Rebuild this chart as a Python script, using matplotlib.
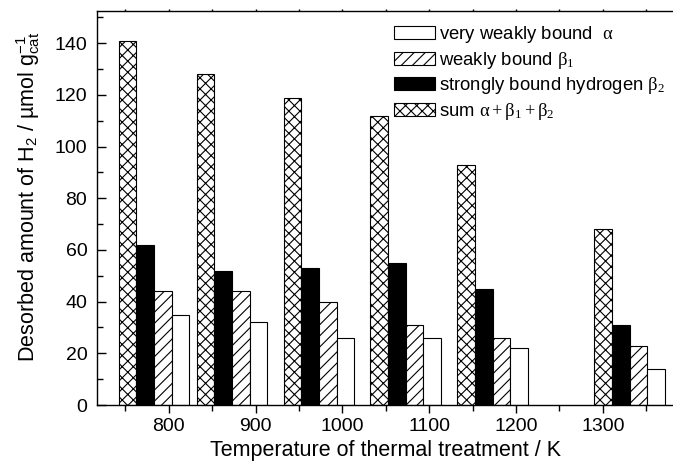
import matplotlib
matplotlib.use("Agg")
import matplotlib.pyplot as plt
from matplotlib.patches import Patch
from matplotlib.ticker import MultipleLocator
import numpy as np

# Thermal treatment temperatures (K) and desorbed H2 amounts (µmol/g_cat)
temperatures = [783, 873, 973, 1073, 1173, 1331]
alpha_weak = [35, 32, 26, 26, 22, 14]
beta1_weak = [44, 44, 40, 31, 26, 23]
beta2_strong = [62, 52, 53, 55, 45, 31]
total_sum = [141, 128, 119, 112, 93, 68]

labels = [
    r"very weakly bound  $\alpha$",
    r"weakly bound $\beta_1$",
    r"strongly bound hydrogen $\beta_2$",
    r"sum $\alpha+\beta_1+\beta_2$",
]

plt.rcParams["font.family"] = ["Liberation Sans", "DejaVu Sans"]
plt.rcParams["mathtext.fontset"] = "custom"
plt.rcParams["mathtext.rm"] = "Liberation Serif"
plt.rcParams["mathtext.it"] = "Liberation Serif"
plt.rcParams["mathtext.bf"] = "Liberation Serif:bold"
plt.rcParams["mathtext.sf"] = "Liberation Sans"
plt.rcParams["hatch.linewidth"] = 0.8

W, H = 673, 465
fig = plt.figure(figsize=(W / 100, H / 100), dpi=100)
ax = fig.add_axes([97 / W, 60 / H, (674 - 97) / W, (405 - 11) / H])

x = np.array(temperatures, dtype=float)
bw = 20.3
styles = [
    (total_sum, dict(facecolor="white", hatch="xxx"), -1.5),
    (beta2_strong, dict(facecolor="black"), -0.5),
    (beta1_weak, dict(facecolor="white", hatch="///"), 0.5),
    (alpha_weak, dict(facecolor="white"), 1.5),
]
for vals, kw, off in styles:
    ax.bar(x + off * bw, vals, width=bw, edgecolor="black", linewidth=0.8, **kw)

ax.set_xlim(717.4, 1382)
ax.set_ylim(0, 152.5)

ax.xaxis.set_major_locator(MultipleLocator(100))
ax.xaxis.set_minor_locator(MultipleLocator(50))
ax.yaxis.set_major_locator(MultipleLocator(20))
ax.yaxis.set_minor_locator(MultipleLocator(10))

ax.tick_params(axis="x", which="major", direction="out", length=6, width=1,
               labelsize=14, pad=3, top=True)
ax.tick_params(axis="x", which="minor", direction="out", length=4.3, width=1, top=True)
ax.tick_params(axis="x", which="both", top=True, labeltop=False)
ax.tick_params(axis="y", which="major", direction="in", length=6.2, width=1,
               labelsize=14, pad=7)
ax.tick_params(axis="y", which="minor", direction="in", length=4.3, width=1)
for t in ax.xaxis.get_ticklines(minor=False)[1::2]:
    t.set_markersize(1.5)
for t in ax.xaxis.get_ticklines(minor=True)[1::2]:
    t.set_markersize(1.5)

for s in ax.spines.values():
    s.set_linewidth(1.0)
ax.spines["right"].set_visible(False)

ax.set_xlabel("Temperature of thermal treatment / K", fontsize=15.5, labelpad=4)
fig.text(28 / W, 1 - 197 / H,
         r"Desorbed amount of H$_\mathsf{2}$ / µmol g$_\mathsf{cat}^\mathsf{-1}$",
         rotation=90, ha="center", va="center", fontsize=15.5)

handles = [
    Patch(facecolor="white", edgecolor="black", linewidth=0.8),
    Patch(facecolor="white", edgecolor="black", linewidth=0.8, hatch="///"),
    Patch(facecolor="black", edgecolor="black", linewidth=0.8),
    Patch(facecolor="white", edgecolor="black", linewidth=0.8, hatch="xxx"),
]
ax.legend(handles, labels, loc="upper left",
          bbox_to_anchor=(394 / W, 1 - 24 / H), bbox_transform=fig.transFigure,
          frameon=False, fontsize=13.3, borderpad=0, borderaxespad=0,
          handlelength=2.2, handleheight=0.7, handletextpad=0.25,
          labelspacing=0.25)

fig.savefig("out.png", dpi=100)
